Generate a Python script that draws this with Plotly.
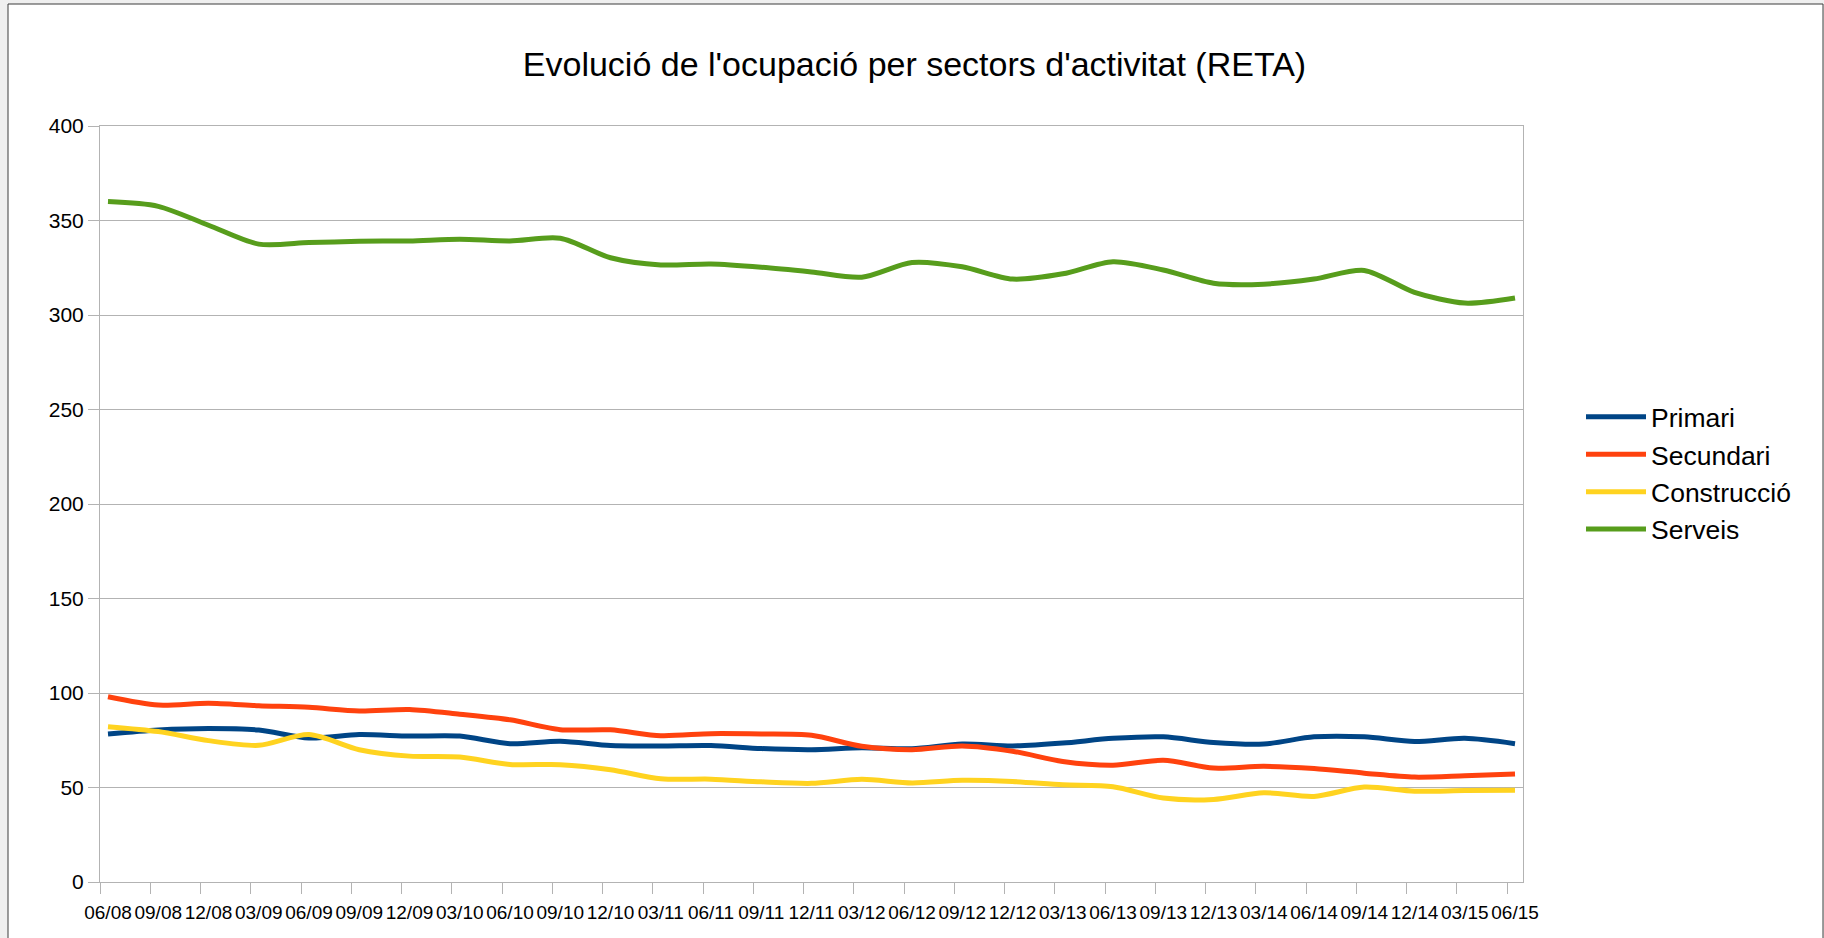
import plotly.graph_objects as go

periods = ["06/08", "09/08", "12/08", "03/09", "06/09", "09/09", "12/09", "03/10", "06/10", "09/10",
           "12/10", "03/11", "06/11", "09/11", "12/11", "03/12", "06/12", "09/12", "12/12", "03/13",
           "06/13", "09/13", "12/13", "03/14", "06/14", "09/14", "12/14", "03/15", "06/15"]

primari = [78.3, 80.4, 81.2, 80.4, 76.2, 78.0, 77.2, 77.2, 73.2, 74.5, 72.2, 72.0, 72.2, 70.6,
           70.0, 71.0, 70.5, 73.0, 72.0, 73.5, 76.0, 76.8, 73.8, 73.0, 76.8, 76.8, 74.3, 76.0, 73.2]
secundari = [98.0, 93.6, 94.6, 93.3, 92.4, 90.5, 91.3, 88.8, 85.8, 80.6, 80.5, 77.4, 78.5, 78.3,
             77.6, 71.8, 70.0, 72.0, 69.2, 63.8, 61.8, 64.4, 60.3, 61.2, 60.0, 57.6, 55.5, 56.2, 57.1]
construccio = [82.2, 79.6, 74.8, 72.3, 78.0, 70.0, 66.6, 66.1, 62.2, 62.1, 59.4, 54.6, 54.4, 53.0,
               52.2, 54.3, 52.4, 53.8, 53.2, 51.4, 50.4, 44.4, 43.7, 47.2, 45.3, 50.2, 48.0, 48.4, 48.5]
serveis = [360.0, 357.5, 347.5, 337.5, 338.3, 339.0, 339.2, 340.1, 339.2, 340.6, 330.3, 326.5,
           327.0, 325.3, 322.8, 320.0, 327.8, 325.5, 319.0, 321.8, 328.2, 323.8, 316.8, 316.3,
           319.0, 323.6, 312.0, 306.3, 309.0]

series = [
    ("Primari", primari, "#004586"),
    ("Secundari", secundari, "#ff420e"),
    ("Construcció", construccio, "#ffd320"),
    ("Serveis", serveis, "#579d1c"),
]

y_ticks = [0, 50, 100, 150, 200, 250, 300, 350, 400]

FONT = "Liberation Sans, Arial, sans-serif"
fig = go.Figure()
for name, vals, col in series:
    fig.add_trace(go.Scatter(
        x=periods, y=vals, name=name, mode="lines",
        line=dict(color=col, width=5, shape="spline", smoothing=0.8),
    ))

# overlay axis carrying the tick marks (ticks sit slightly left of each label)
n = len(periods)
off = 0.159
fig.add_trace(go.Scatter(x=[0], y=[None], xaxis="x2", showlegend=False,
                         hoverinfo="skip", mode="lines"))

W, H = 1824, 938
ml, mr, mt, mb = 100, 301, 126, 56
pw, ph = W - ml - mr, H - mt - mb

def px(xp):
    return (xp - ml) / pw

def py(yp):
    return (H - mb - yp) / ph

fig.update_layout(
    width=W, height=H,
    margin=dict(l=ml, r=mr, t=mt, b=mb, pad=0),
    paper_bgcolor="#efefef",
    plot_bgcolor="white",
    font=dict(family=FONT, color="#000000"),
    title=dict(text="Evolució de l'ocupació per sectors d'activitat (RETA)",
               font=dict(size=34, family=FONT, color="#000000"),
               x=px(914.5), xanchor="center", xref="paper",
               y=1 - 64 / H, yanchor="middle"),
    xaxis=dict(
        type="category", range=[-off, n - 1 + off],
        showgrid=False, showline=True, linecolor="#b3b3b3", linewidth=1, mirror=True,
        ticks="outside", ticklen=13, tickcolor="rgba(0,0,0,0)",
        tickfont=dict(size=19, family=FONT, color="#000000"),
        tickangle=0, zeroline=False,
    ),
    xaxis2=dict(
        overlaying="x", side="bottom", type="linear", range=[-off, n - 1 + off],
        tickvals=[k - off for k in range(n)], ticks="outside", ticklen=11,
        tickcolor="#b3b3b3", tickwidth=1, showticklabels=False, showgrid=False,
        showline=False, zeroline=False,
    ),
    yaxis=dict(
        range=[0, 400], tickvals=y_ticks, showgrid=True, gridcolor="#b3b3b3", gridwidth=1,
        showline=True, linecolor="#b3b3b3", linewidth=1, mirror=True,
        ticks="outside", ticklen=11, tickcolor="#b3b3b3",
        tickfont=dict(size=21, family=FONT, color="#000000"), zeroline=False,
    ),
    legend=dict(
        x=px(1581), y=py(473), xanchor="left", yanchor="middle",
        font=dict(size=26.5, family=FONT, color="#000000"),
        bgcolor="rgba(0,0,0,0)", itemwidth=60, tracegroupgap=0,
    ),
    shapes=[dict(type="rect", xref="paper", yref="paper",
                 x0=px(8), x1=px(1823), y0=py(945), y1=py(4),
                 line=dict(color="#3c3c3c", width=1), fillcolor="white", layer="below")],
)

fig.write_html("out.html", config={"displayModeBar": False},
               post_script="document.body.style.margin='0';document.body.style.background='#efefef';")
